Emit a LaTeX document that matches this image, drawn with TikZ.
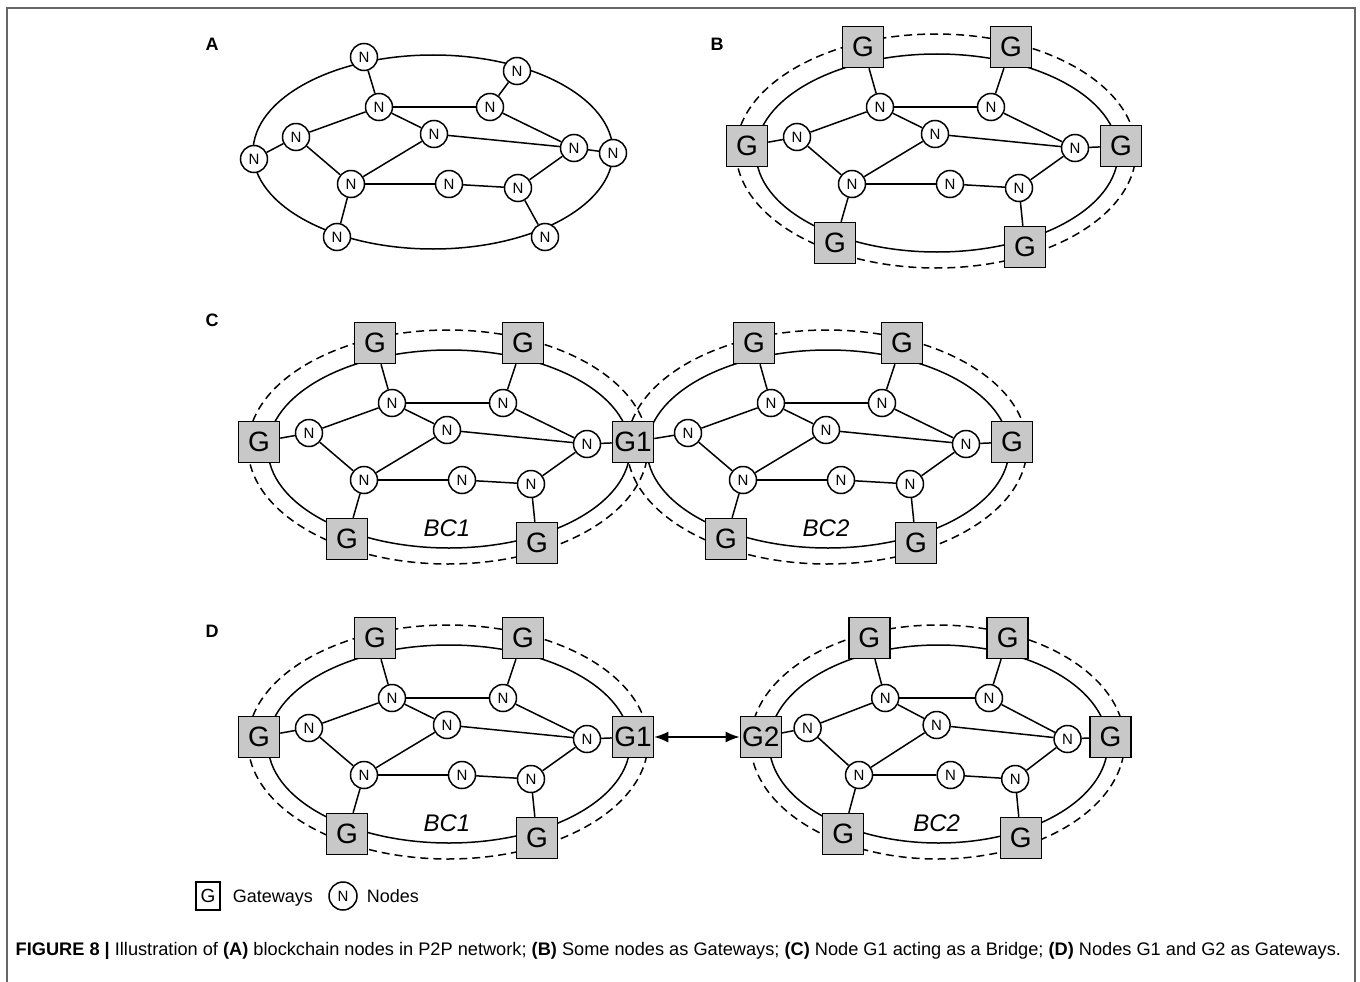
\documentclass[tikz,border=0pt]{standalone}
\usepackage{fontspec}
\setmainfont{Liberation Sans}
\usetikzlibrary{arrows.meta,backgrounds}

\definecolor{gwgray}{HTML}{C8C8C8}
\definecolor{framecol}{HTML}{666666}

\tikzset{
  nd/.style={circle, draw, fill=white, minimum size=27pt, inner sep=0pt,
    font=\fontsize{15}{15}\selectfont},
  gw/.style={rectangle, draw, fill=gwgray, minimum size=41pt, inner sep=0pt,
    font=\fontsize{28}{28}\selectfont},
  ringline/.style={line width=1.5pt},
  dashring/.style={line width=1.5pt, dash pattern=on 8pt off 5pt},
  panel/.style={font=\bfseries\fontsize{18}{18}\selectfont, inner sep=0pt},
  bclabel/.style={font=\itshape\fontsize{24}{24}\selectfont}
}

% внутренние узлы сети
\newcommand{\netcore}[1]{%
  \node[nd] (#1n1) at (-57,-46) {N};
  \node[nd] (#1n2) at (54,-46) {N};
  \node[nd] (#1n3) at (-140,-16) {N};
  \node[nd] (#1n4) at (-2,-19) {N};
  \node[nd] (#1n5) at (138,-5) {N};
  \node[nd] (#1n6) at (-85,31) {N};
  \node[nd] (#1n7) at (13,31) {N};
  \node[nd] (#1n8) at (82,35) {N};
  \draw (#1n1) -- (#1n2);
  \draw (#1n1) -- (#1n3);
  \draw (#1n1) -- (#1n4);
  \draw (#1n2) -- (#1n5);
  \draw (#1n4) -- (#1n5);
  \draw (#1n3) -- (#1n6);
  \draw (#1n4) -- (#1n6);
  \draw (#1n6) -- (#1n7);
  \draw (#1n7) -- (#1n8);
  \draw (#1n8) -- (#1n5);
}

% сеть со шлюзами: префикс, центр, xscale, левый шлюз, правый шлюз, подпись
\newcommand{\gwnet}[6]{%
  \begin{scope}[shift={#2}, xscale=#3]
    \begin{scope}[on background layer]
      \draw[ringline] (0,0) ellipse [x radius=181, y radius=99];
      \draw[dashring] (-1,-2) ellipse [x radius=200, y radius=117];
    \end{scope}
    \netcore{#1}
    \node[gw] (#1gtl) at (-74,-106) {G};
    \node[gw] (#1gtr) at (74,-106) {G};
    \if\relax\detokenize{#4}\relax\else\node[gw] (#1gl) at (-190,-7) {#4};\fi
    \node[gw] (#1gr) at (184,-7) {#5};
    \node[gw] (#1gbl) at (-102,90) {G};
    \node[gw] (#1gbr) at (88,94) {G};
    \if\relax\detokenize{#6}\relax\else\node[bclabel] (#1lab) at (-2,79) {#6};\fi
    \draw (#1gtl) -- (#1n1);
    \draw (#1gtr) -- (#1n2);
    \draw (#1gl) -- (#1n3);
    \draw (#1gr) -- (#1n5);
    \draw (#1gbl) -- (#1n6);
    \draw (#1gbr) -- (#1n8);
  \end{scope}
}

\begin{document}
\begin{tikzpicture}[x=1pt, y=-1pt, line width=1.5pt]
  \useasboundingbox (0,0) rectangle (1360,982);

  % Рамка
  \draw[framecol, line width=2pt] (7,982) -- (7,8) -- (1355,8) -- (1355,982);

  % Панель A
  \node[panel] (labA) at (212,44) {A};
  \begin{scope}[shift={(436,153)}]
    \draw (-3,-1) ellipse [x radius=180, y radius=97];
    \netcore{a}
    \node[nd] (artl) at (-72,-96) {N};
    \node[nd] (artr) at (81,-82) {N};
    \node[nd] (arl) at (-182,6) {N};
    \node[nd] (arr) at (177,0) {N};
    \node[nd] (arbl) at (-99,84) {N};
    \node[nd] (arbr) at (109,84) {N};
    \draw (artl) -- (an1);
    \draw (artr) -- (an2);
    \draw (arl) -- (an3);
    \draw (arr) -- (an5);
    \draw (arbl) -- (an6);
    \draw (arbr) -- (an8);
  \end{scope}

  % Панель B
  \node[panel] (labB) at (717,44) {B};
  \gwnet{b}{(937,153)}{1}{G}{G}{}

  % Панель C
  \node[panel] (labC) at (212,320) {C};
  \gwnet{c1}{(449,449)}{1}{G}{G1}{BC1}
  \pgfnodealias{c2gl}{c1gr}
  \gwnet{c2}{(828,449)}{1}{}{G}{BC2}

  % Панель D
  \node[panel] (labD) at (212,631) {D};
  \gwnet{d1}{(449,744)}{1}{G}{G1}{BC1}
  \gwnet{d2}{(938.5,744)}{0.935}{G2}{G}{BC2}
  \draw[{Latex[length=14pt,width=11pt]}-{Latex[length=14pt,width=11pt]}] (d1gr) -- (d2gl);

  % Легенда
  \node[draw, minimum width=24pt, minimum height=28pt, inner sep=0pt,
    font=\fontsize{19}{19}\selectfont] (lgG) at (208,896) {G};
  \node[anchor=base west, inner sep=0pt, font=\fontsize{18}{18}\selectfont]
    (lgGtxt) at (232,902) {Gateways};
  \node[nd, minimum size=28pt] (lgN) at (343,896) {N};
  \node[anchor=base west, inner sep=0pt, font=\fontsize{18}{18}\selectfont]
    (lgNtxt) at (366,902) {Nodes};

  % Подпись
  \node[anchor=base west, inner sep=0pt, font=\fontsize{18.2}{18.2}\selectfont]
    (caption) at (15,955) {\textbf{FIGURE 8 |} Illustration of \textbf{(A)} blockchain nodes in P2P network; \textbf{(B)} Some nodes as Gateways; \textbf{(C)} Node G1 acting as a Bridge; \textbf{(D)} Nodes G1 and G2 as Gateways.};
\end{tikzpicture}
\end{document}
